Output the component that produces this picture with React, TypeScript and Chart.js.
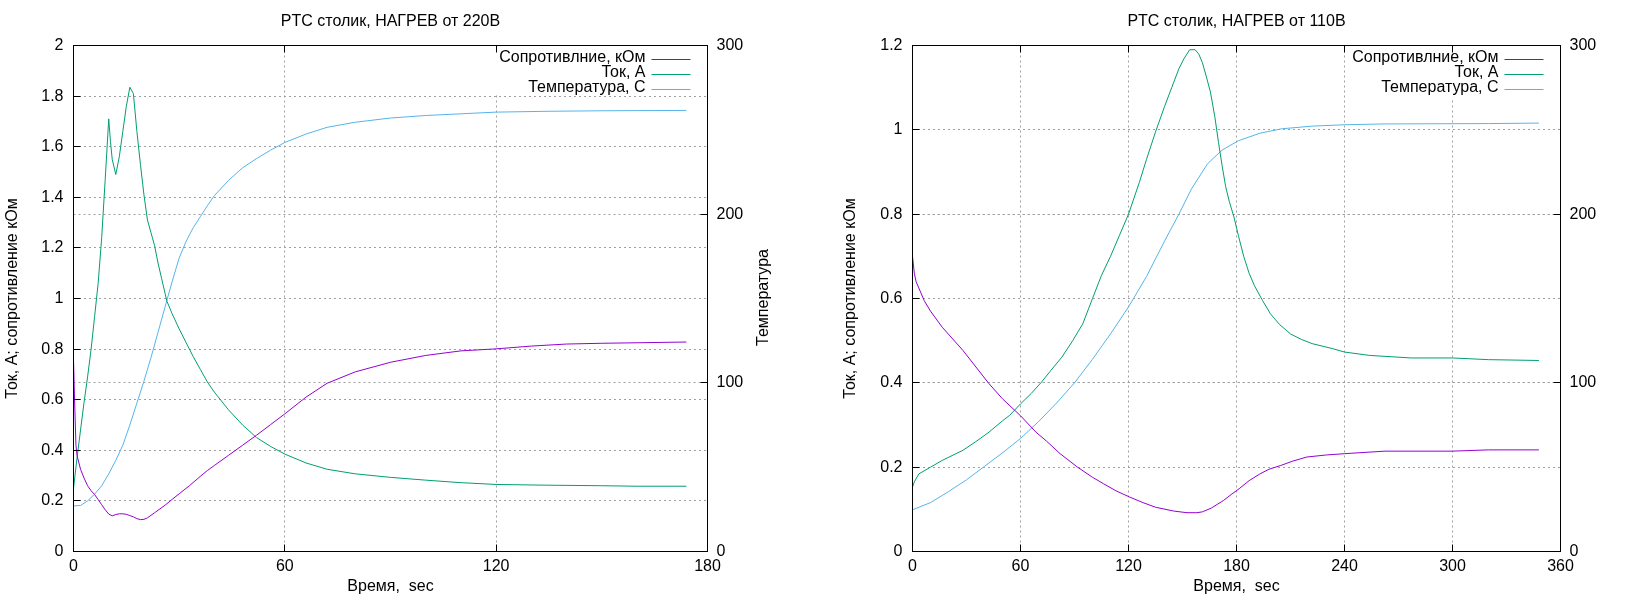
import React, { useEffect, useRef } from "react";
import { Chart, registerables } from "chart.js";

Chart.register(...registerables);

const FONT_FAMILY = '"Liberation Sans", Arial, Helvetica, sans-serif';
const FONT_SIZE = 16;
const GRID_COLOR = "#a0a0a0";

const SERIES_LABELS = ["Сопротивлние, кОм", "Ток, А", "Температура, С"];
const SERIES_COLORS = ["#9400d3", "#009e73", "#56b4e9"];

const X_TITLE = "Время,  sec";
const Y_TITLE = "Ток, А; сопротивление кОм";
const Y2_TITLE = "Температура";

// ---------- Panel 1: 220 V ----------
const TITLE_220 = "PTC столик, НАГРЕВ от 220В";
const X_TICKS_220 = [0, 60, 120, 180];
const Y_TICKS_220 = [0, 0.2, 0.4, 0.6, 0.8, 1, 1.2, 1.4, 1.6, 1.8, 2];
const Y2_TICKS = [0, 100, 200, 300];

const res220Time = [0, 0.3, 0.7, 1, 2, 3, 4, 5, 6, 7, 8, 9, 10, 11, 12, 13, 14, 15, 16, 17, 18, 19, 20, 21, 22, 23, 24, 26, 28, 30, 33, 36, 38, 40, 44, 48, 52, 56, 60, 66, 72, 80, 90, 100, 110, 120, 130, 140, 150, 160, 174];
const res220 = [0.76, 0.6, 0.42, 0.38, 0.325, 0.29, 0.26, 0.24, 0.225, 0.205, 0.185, 0.165, 0.148, 0.141, 0.146, 0.149, 0.149, 0.147, 0.142, 0.137, 0.13, 0.126, 0.127, 0.133, 0.143, 0.153, 0.163, 0.183, 0.206, 0.228, 0.261, 0.297, 0.32, 0.34, 0.38, 0.42, 0.46, 0.502, 0.544, 0.61, 0.665, 0.71, 0.748, 0.775, 0.793, 0.801, 0.812, 0.82, 0.823, 0.825, 0.828];

const cur220Time = [0, 1, 2, 3, 4, 5, 6, 7, 8, 9, 10, 10.5, 11, 12, 13, 14, 15, 16, 17, 18, 19, 20, 21, 22, 23, 24, 25, 26.5, 28, 30, 32, 34, 36, 38, 40, 44, 48, 52, 56, 60, 66, 72, 80, 90, 100, 110, 120, 135, 150, 160, 174];
const cur220 = [0.25, 0.37, 0.48, 0.59, 0.69, 0.8, 0.93, 1.06, 1.24, 1.47, 1.71, 1.62, 1.55, 1.49, 1.56, 1.66, 1.76, 1.835, 1.81, 1.66, 1.53, 1.41, 1.31, 1.26, 1.21, 1.14, 1.08, 0.99, 0.94, 0.88, 0.825, 0.77, 0.72, 0.67, 0.63, 0.56, 0.5, 0.45, 0.415, 0.385, 0.35, 0.325, 0.307, 0.293, 0.282, 0.272, 0.265, 0.262, 0.26, 0.258, 0.258];

const temp220Time = [0, 2, 4, 6, 8, 10, 12, 14, 16, 18, 20, 22, 24, 26, 28, 30, 32, 34, 36, 38, 40, 44, 48, 52, 56, 60, 66, 72, 80, 90, 100, 110, 120, 135, 150, 174];
const temp220 = [27, 27.3, 30, 34, 39, 46, 54, 63, 75, 88, 101, 115, 130, 145, 160, 174, 184, 192, 198.5, 205, 211, 220, 227.5, 233, 238, 242.5, 247.5, 251.5, 254.5, 257, 258.5, 259.5, 260.5, 261, 261.3, 261.5];

// ---------- Panel 2: 110 V ----------
const TITLE_110 = "PTC столик, НАГРЕВ от 110В";
const X_TICKS_110 = [0, 60, 120, 180, 240, 300, 360];
const Y_TICKS_110 = [0, 0.2, 0.4, 0.6, 0.8, 1, 1.2];

const res110Time = [0, 1, 2, 3.5, 6.5, 10, 16.5, 28, 42.5, 50, 60, 68.6, 74.4, 82, 91.7, 100, 106, 113, 120.7, 128, 135, 145, 152.5, 158, 161, 166, 172.8, 177, 181.5, 187, 193, 198, 204.6, 211, 219, 230, 240, 262.5, 300, 320, 348];
const res110 = [0.7, 0.66, 0.64, 0.625, 0.595, 0.57, 0.532, 0.477, 0.398, 0.362, 0.322, 0.283, 0.262, 0.232, 0.2, 0.176, 0.161, 0.144, 0.129, 0.116, 0.105, 0.096, 0.092, 0.092, 0.094, 0.103, 0.121, 0.135, 0.149, 0.168, 0.184, 0.195, 0.204, 0.214, 0.224, 0.229, 0.232, 0.238, 0.238, 0.241, 0.241];

const cur110Time = [0, 1, 3.5, 10, 16.5, 28, 35, 42.5, 50, 54, 60, 66, 71.5, 77, 83, 89, 94.6, 100, 105, 110, 115, 120, 126, 130, 135, 140, 144, 148, 151, 154, 157, 159, 161, 163, 165.5, 168, 170, 172, 174, 176, 178.6, 181, 184, 187, 190, 194.5, 198.8, 204, 210, 216, 222, 233.5, 240, 254, 277, 300, 320, 348];
const cur110 = [0.153, 0.165, 0.184, 0.2, 0.216, 0.24, 0.26, 0.283, 0.31, 0.323, 0.35, 0.375, 0.401, 0.43, 0.461, 0.5, 0.54, 0.6, 0.655, 0.7, 0.75, 0.8, 0.875, 0.93, 0.995, 1.055, 1.1, 1.145, 1.17, 1.19, 1.19, 1.18, 1.16, 1.13, 1.09, 1.03, 0.97, 0.915, 0.865, 0.83, 0.793, 0.75, 0.7, 0.66, 0.63, 0.595, 0.564, 0.538, 0.516, 0.503, 0.493, 0.481, 0.473, 0.465, 0.459, 0.459, 0.455, 0.453];

const temp110Time = [0, 10, 20, 30, 40, 50, 60, 70, 80, 90, 100, 110, 120, 130, 140, 148, 155, 164, 172, 181, 193, 205, 222, 240, 262, 320, 348];
const temp110 = [24.7, 29, 35.5, 42.5, 50.5, 58.5, 67, 77, 88, 100, 114, 129, 145, 163, 184, 200, 215, 230, 238, 243.5, 248, 250.6, 252.2, 253, 253.5, 253.7, 254];

// ---------- layout constants ----------
const CANVAS_H = 600;
const AREA_TOP = 45.5;
const AREA_BOTTOM = 551.5;
const TICK_LEN = 7;
const TITLE_Y = 21.5;
const XTITLE_Y = 586.5;
const LEGEND_Y0 = 59.5;
const LEGEND_DY = 15;
const LEGEND_TEXT_GAP = 62;
const LEGEND_LINE_START = 56;
const LEGEND_LINE_END = 17;

type Panel = {
  title: string;
  width: number;
  areaLeft: number;
  areaRight: number;
  xMax: number;
  xTicks: number[];
  yMax: number;
  yTicks: number[];
  y2Ticks: number[];
  yTitleX: number;
  y2TitleX: number | null;
  legendBoxBottom: number;
  series: { t: number[]; v: number[] }[];
};

const PANELS: Panel[] = [
  {
    title: TITLE_220,
    width: 812,
    areaLeft: 73.5,
    areaRight: 707.5,
    xMax: 180,
    xTicks: X_TICKS_220,
    yMax: 2,
    yTicks: Y_TICKS_220,
    y2Ticks: Y2_TICKS,
    yTitleX: 12.5,
    y2TitleX: 764,
    legendBoxBottom: 94,
    series: [
      { t: res220Time, v: res220 },
      { t: cur220Time, v: cur220 },
      { t: temp220Time, v: temp220 },
    ],
  },
  {
    title: TITLE_110,
    width: 813,
    areaLeft: 100.5,
    areaRight: 748.5,
    xMax: 360,
    xTicks: X_TICKS_110,
    yMax: 1.2,
    yTicks: Y_TICKS_110,
    y2Ticks: Y2_TICKS,
    yTitleX: 38.5,
    y2TitleX: null,
    legendBoxBottom: 97,
    series: [
      { t: res110Time, v: res110 },
      { t: cur110Time, v: cur110 },
      { t: temp110Time, v: temp110 },
    ],
  },
];

const FONT_STR = `${FONT_SIZE}px ${FONT_FAMILY}`;
const alignPx = (p: number) => Math.round(p - 0.5) + 0.5;

function makeDecorPlugin(panel: Panel) {
  return {
    id: "gnuplotDecor",
    beforeDatasetsDraw(chart: any) {
      const ctx = chart.ctx;
      const a = chart.chartArea;
      ctx.save();
      ctx.font = FONT_STR;
      const w = Math.max(...chart.data.datasets.map((d: any) => ctx.measureText(d.label).width));
      const left = a.right - LEGEND_TEXT_GAP - w - 4;
      ctx.fillStyle = "#ffffff";
      ctx.fillRect(left, a.top + 1, a.right - 1 - left, panel.legendBoxBottom - a.top);
      ctx.restore();
    },
    afterDatasetsDraw(chart: any) {
      const ctx = chart.ctx;
      const a = chart.chartArea;
      ctx.save();
      ctx.setLineDash([]);
      ctx.lineWidth = 1;
      ctx.strokeStyle = "#000000";
      ctx.strokeRect(a.left, a.top, a.right - a.left, a.bottom - a.top);

      ctx.beginPath();
      const xs = chart.scales.x;
      xs.ticks.forEach((t: any) => {
        const px = alignPx(xs.getPixelForValue(t.value));
        ctx.moveTo(px, a.bottom);
        ctx.lineTo(px, a.bottom - TICK_LEN);
        ctx.moveTo(px, a.top);
        ctx.lineTo(px, a.top + TICK_LEN);
      });
      const ys = chart.scales.y;
      ys.ticks.forEach((t: any) => {
        const py = alignPx(ys.getPixelForValue(t.value));
        ctx.moveTo(a.left, py);
        ctx.lineTo(a.left + TICK_LEN, py);
      });
      const y2 = chart.scales.y2;
      y2.ticks.forEach((t: any) => {
        const py = alignPx(y2.getPixelForValue(t.value));
        ctx.moveTo(a.right, py);
        ctx.lineTo(a.right - TICK_LEN, py);
      });
      ctx.stroke();

      ctx.fillStyle = "#000000";
      ctx.font = FONT_STR;
      ctx.textAlign = "center";
      ctx.textBaseline = "middle";
      const cx = (a.left + a.right) / 2;
      const cy = (a.top + a.bottom) / 2;
      ctx.fillText(panel.title, cx, TITLE_Y);
      ctx.fillText(X_TITLE, cx, XTITLE_Y);

      ctx.save();
      ctx.translate(panel.yTitleX, cy);
      ctx.rotate(-Math.PI / 2);
      ctx.fillText(Y_TITLE, 0, 0);
      ctx.restore();

      if (panel.y2TitleX !== null) {
        ctx.save();
        ctx.translate(panel.y2TitleX, cy - 1);
        ctx.rotate(-Math.PI / 2);
        ctx.fillText(Y2_TITLE, 0, 0);
        ctx.restore();
      }

      ctx.textAlign = "right";
      chart.data.datasets.forEach((ds: any, i: number) => {
        const ly = LEGEND_Y0 + i * LEGEND_DY;
        ctx.fillStyle = "#000000";
        ctx.fillText(ds.label, a.right - LEGEND_TEXT_GAP, ly - 1.5);
        ctx.strokeStyle = ds.borderColor;
        ctx.beginPath();
        ctx.moveTo(a.right - LEGEND_LINE_START, ly);
        ctx.lineTo(a.right - LEGEND_LINE_END, ly);
        ctx.stroke();
      });
      ctx.restore();
    },
  };
}

function buildChart(canvas: HTMLCanvasElement, panel: Panel) {
  const datasets = panel.series.map((s, i) => ({
    label: SERIES_LABELS[i],
    data: s.t.map((t, k) => ({ x: t, y: s.v[k] })),
    borderColor: SERIES_COLORS[i],
    backgroundColor: SERIES_COLORS[i],
    borderWidth: 1,
    pointRadius: 0,
    pointHoverRadius: 0,
    tension: 0,
    fill: false,
    yAxisID: i === 2 ? "y2" : "y",
  }));

  const tickFont = { family: FONT_FAMILY, size: FONT_SIZE };
  const grid = { display: true, color: GRID_COLOR, lineWidth: 1, drawTicks: false };
  const border = { display: false, dash: [2, 3] };

  return new Chart(canvas, {
    type: "line",
    data: { datasets } as any,
    plugins: [makeDecorPlugin(panel)],
    options: {
      responsive: false,
      animation: false,
      devicePixelRatio: 1,
      layout: { padding: { top: AREA_TOP, left: 0, right: 0, bottom: 0 } },
      plugins: {
        legend: { display: false },
        title: { display: false },
        tooltip: { enabled: false },
      },
      scales: {
        x: {
          type: "linear",
          min: 0,
          max: panel.xMax,
          afterBuildTicks: (s: any) => {
            s.ticks = panel.xTicks.map((v) => ({ value: v }));
          },
          afterFit: (s: any) => {
            s.height = CANVAS_H - AREA_BOTTOM;
          },
          grid,
          border,
          ticks: {
            padding: 5,
            color: "#000000",
            font: tickFont,
            maxRotation: 0,
            autoSkip: false,
            callback: (v: any) => String(v),
          },
        },
        y: {
          type: "linear",
          position: "left",
          min: 0,
          max: panel.yMax,
          afterBuildTicks: (s: any) => {
            s.ticks = panel.yTicks.map((v) => ({ value: v }));
          },
          afterFit: (s: any) => {
            s.width = panel.areaLeft;
          },
          grid,
          border,
          ticks: {
            padding: 10,
            color: "#000000",
            font: tickFont,
            autoSkip: false,
            callback: (v: any) => String(v),
          },
        },
        y2: {
          type: "linear",
          position: "right",
          min: 0,
          max: 300,
          afterBuildTicks: (s: any) => {
            s.ticks = panel.y2Ticks.map((v) => ({ value: v }));
          },
          afterFit: (s: any) => {
            s.width = panel.width - panel.areaRight;
          },
          grid,
          border,
          ticks: {
            padding: 9,
            color: "#000000",
            font: tickFont,
            autoSkip: false,
            callback: (v: any) => String(v),
          },
        },
      },
    } as any,
  });
}

export default function App() {
  const ref1 = useRef<HTMLCanvasElement | null>(null);
  const ref2 = useRef<HTMLCanvasElement | null>(null);

  useEffect(() => {
    const charts: Chart[] = [];
    if (ref1.current) charts.push(buildChart(ref1.current, PANELS[0]));
    if (ref2.current) charts.push(buildChart(ref2.current, PANELS[1]));
    return () => charts.forEach((c) => c.destroy());
  }, []);

  return (
    <div
      style={{
        position: "absolute",
        left: 0,
        top: 0,
        width: 1625,
        height: 600,
        display: "flex",
        background: "#ffffff",
      }}
    >
      <canvas ref={ref1} width={812} height={600} style={{ width: 812, height: 600, display: "block" }} />
      <canvas ref={ref2} width={813} height={600} style={{ width: 813, height: 600, display: "block" }} />
    </div>
  );
}
